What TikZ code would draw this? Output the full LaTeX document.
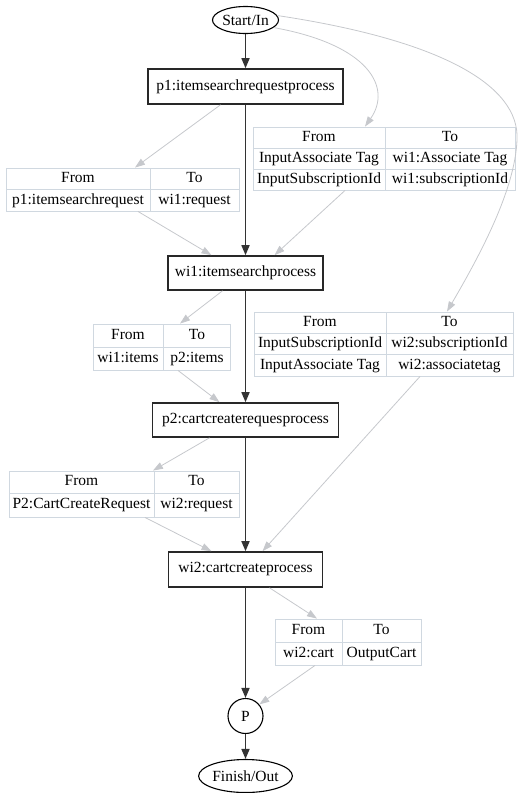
\documentclass[tikz,border=0pt]{standalone}
\usepackage{fontspec}
\setmainfont{Liberation Serif}
\usetikzlibrary{arrows.meta,shapes.geometric}
\definecolor{edgegray}{RGB}{198,200,204}
\definecolor{tabline}{RGB}{208,216,224}
\definecolor{boxline}{RGB}{40,40,40}
\begin{document}
\begin{tikzpicture}[x=1pt,y=-1pt,
  font=\fontsize{15.5}{18}\selectfont,
  proc/.style={draw=boxline, line width=1.6pt, rectangle, inner sep=0pt, minimum width=#1, minimum height=35pt},
  term/.style={draw=black, line width=1.1pt, ellipse, inner sep=0pt},
  tab/.style={draw=tabline, line width=0.9pt, rectangle, inner sep=0pt},
  tabl/.style={draw=tabline, line width=0.9pt},
  cell/.style={inner sep=0pt, text height=11pt, text depth=3.5pt},
  gedge/.style={draw=edgegray, line width=0.8pt, -{Triangle[length=10pt,width=7pt]}},
  bedge/.style={draw=black!80, line width=1.6pt, -{Triangle[length=10pt,width=8pt]}}]
\useasboundingbox (0,0) rectangle (519,793);

% main nodes
\node[term, minimum width=66pt, minimum height=27pt] (start) at (245.5,20) {Start/In};
\node[proc=195pt] (p1) at (245.5,86.5) {p1:itemsearchrequestprocess};
\node[proc=155pt, minimum height=34pt] (wi1) at (245.5,273) {wi1:itemsearchprocess};
\node[proc=186pt, minimum height=34pt] (p2) at (245.5,420) {p2:cartcreaterequesprocess};
\node[proc=154pt] (wi2) at (245.5,569.5) {wi2:cartcreateprocess};
\node[draw=black, line width=1.1pt, circle, minimum size=35pt, inner sep=0pt] (P) at (245.5,716) {P};
\node[term, minimum width=86pt, minimum height=33pt] (finish) at (245.5,776) {Finish/Out};

% table T1
\node[tab, minimum width=233pt, minimum height=43pt] (T1) at (122.5,189.5) {};
\draw[tabl] (150,168) -- (150,211) (6,189.5) -- (239,189.5);
\node[cell] at (78,179) {From};
\node[cell] at (194.5,179) {To};
\node[cell] at (78,200.5) {p1:itemsearchrequest};
\node[cell] at (194.5,200.5) {wi1:request};

% table T2
\node[tab, minimum width=262pt, minimum height=63pt] (T2) at (384,158.5) {};
\draw[tabl] (385,127) -- (385,190) (253,148) -- (515,148) (253,169) -- (515,169);
\node[cell] at (319,137.5) {From};
\node[cell] at (450,137.5) {To};
\node[cell] at (319,158.5) {InputAssociate Tag};
\node[cell] at (450,158.5) {wi1:Associate Tag};
\node[cell] at (319,179.5) {InputSubscriptionId};
\node[cell] at (450,179.5) {wi1:subscriptionId};

% table T3
\node[tab, minimum width=137pt, minimum height=46pt] (T3) at (161.5,347) {};
\draw[tabl] (163.5,324) -- (163.5,370) (93,347) -- (230,347);
\node[cell] at (128,335.5) {From};
\node[cell] at (197,335.5) {To};
\node[cell] at (128,358.5) {wi1:items};
\node[cell] at (197,358.5) {p2:items};

% table T4
\node[tab, minimum width=259pt, minimum height=64pt] (T4) at (383.5,344) {};
\draw[tabl] (386,312) -- (386,376) (254,333) -- (513,333) (254,354.5) -- (513,354.5);
\node[cell] at (320,322.5) {From};
\node[cell] at (449.5,322.5) {To};
\node[cell] at (320,344) {InputSubscriptionId};
\node[cell] at (449.5,344) {wi2:subscriptionId};
\node[cell] at (320,365.5) {InputAssociate Tag};
\node[cell] at (449.5,365.5) {wi2:associatetag};

% table T5
\node[tab, minimum width=230pt, minimum height=46pt] (T5) at (124,494) {};
\draw[tabl] (154,471) -- (154,517) (9,493.5) -- (239,493.5);
\node[cell] at (81.5,482) {From};
\node[cell] at (196.5,482) {To};
\node[cell] at (81.5,505) {P2:CartCreateRequest};
\node[cell] at (196.5,505) {wi2:request};

% table T6
\node[tab, minimum width=146pt, minimum height=46pt] (T6) at (348,642) {};
\draw[tabl] (342,619) -- (342,665) (275,642) -- (421,642);
\node[cell] at (308.5,630.5) {From};
\node[cell] at (381.5,630.5) {To};
\node[cell] at (308.5,653.5) {wi2:cart};
\node[cell] at (381.5,653.5) {OutputCart};

% black flow
\draw[bedge] (start) -- (p1);
\draw[bedge] (p1) -- (wi1);
\draw[bedge] (wi1) -- (p2);
\draw[bedge] (p2) -- (wi2);
\draw[bedge] (wi2) -- (P);
\draw[bedge] (P) -- (finish);

% gray data edges
\draw[gedge] (start.-15) .. controls (370,45) and (392,88) .. ([xshift=-19pt]T2.north);
\draw[gedge] (start.8) .. controls (440,40) and (520,85) .. (517,140) .. controls (515,190) and (480,255) .. ([xshift=63.5pt]T4.north);
\draw[gedge] ([xshift=-25pt]p1.south) -- ([xshift=12.5pt]T1.north);
\draw[gedge] ([xshift=15.5pt]T1.south) -- ([xshift=-34pt]wi1.north);
\draw[gedge] ([xshift=-39pt]T2.south) -- ([xshift=29pt]wi1.north);
\draw[gedge] ([xshift=-23pt]wi1.south) -- ([xshift=18.5pt]T3.north);
\draw[gedge] ([xshift=16.5pt]T3.south) -- ([xshift=-26pt]p2.north);
\draw[gedge] ([xshift=36.5pt]T4.south) -- ([xshift=17pt]wi2.north);
\draw[gedge] ([xshift=-36pt]p2.south) -- ([xshift=29pt]T5.north);
\draw[gedge] ([xshift=21pt]T5.south) -- ([xshift=-34pt]wi2.north);
\draw[gedge] ([xshift=24pt]wi2.south) -- ([xshift=-31pt]T6.north);
\draw[gedge] ([xshift=-33pt]T6.south) -- (P.40);
\end{tikzpicture}
\end{document}
